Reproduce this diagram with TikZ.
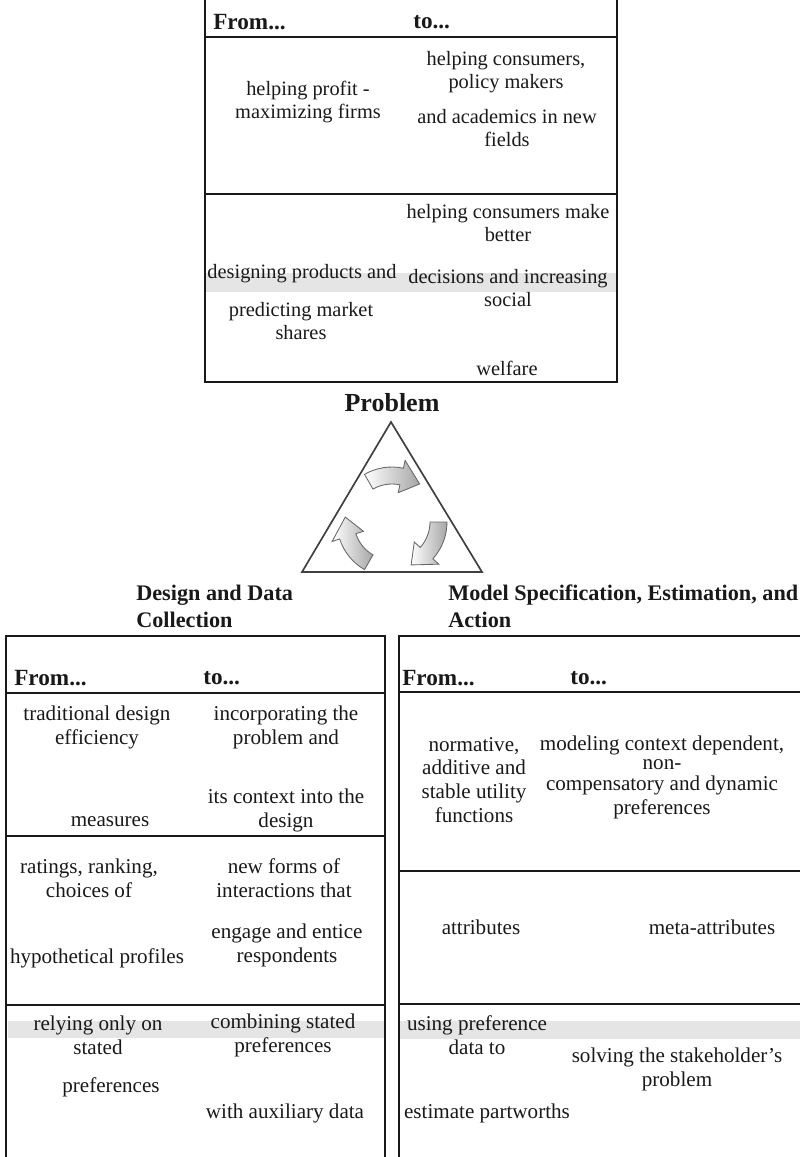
\documentclass[tikz,border=0pt]{standalone}
\usepackage{fontspec}
\setmainfont{Liberation Serif}
\usepackage{tikz}
\usetikzlibrary{calc}

\begin{document}
\begin{tikzpicture}[x=0.025cm, y=-0.025cm,
  rule/.style={line width=2pt, black!90},
  band/.style={fill=black!10},
  cell/.style={align=center, inner sep=0pt, text=black!90, font=\fontsize{15}{17}\selectfont},
  topcell/.style={cell, font=\fontsize{14.5}{16.3}\selectfont},
  head/.style={anchor=west, inner sep=0pt, text=black!90, font=\fontsize{16.5}{19}\selectfont\bfseries},
  title/.style={anchor=west, align=left, inner sep=0pt, text=black!90, font=\fontsize{15.8}{19.2}\selectfont\bfseries},
  turn/.style={draw=black!60, line width=0.6pt, left color=white, right color=black!35}]
  \useasboundingbox (0,0) rectangle (800,1157);

  % grey bands
  \fill[band] (205,273) rectangle (617,292);
  \fill[band] (8,1021) rectangle (384,1038);
  \fill[band] (400,1021) rectangle (800,1039);

  % Problem box
  \coordinate (A_TL) at (205,0);
  \coordinate (A_TR) at (617,0);
  \coordinate (A_BL) at (205,382);
  \coordinate (A_BR) at (617,382);
  \draw[rule] (A_TL) -- (A_BL) -- (A_BR) -- (A_TR);
  \foreach \y in {37,194}
    \draw[rule] (205,\y) -- (617,\y);

  % Design and Data Collection box
  \coordinate (B_TL) at (6,636);
  \coordinate (B_TR) at (385,636);
  \coordinate (B_BL) at (6,1157);
  \coordinate (B_BR) at (385,1157);
  \draw[rule] (B_BL) -- (B_TL) -- (B_TR) -- (B_BR);
  \foreach \y in {693,836,1005}
    \draw[rule] (6,\y) -- (385,\y);

  % Model Specification box
  \coordinate (C_TL) at (399,636);
  \coordinate (C_TR) at (800,636);
  \coordinate (C_BL) at (399,1157);
  \draw[rule] (C_BL) -- (C_TL) -- (C_TR);
  \foreach \y in {692,871,1004}
    \draw[rule] (399,\y) -- (800,\y);

  % triangle with turning arrows
  \begin{scope}[shift={(392,522)}, x=0.025cm, y=0.025cm]
    \coordinate (T_top) at (-1,100);
    \coordinate (T_left) at (-90,-50);
    \coordinate (T_right) at (90,-50);
    \draw[black!75, line width=1.2pt] (T_top) -- (T_left) -- (T_right) -- cycle;
    \foreach \a in {90,-30,210}
      \shade[turn] ({\a+30}:55) arc[start angle=\a+30, end angle=\a-12, radius=55]
        -- ({\a-12}:63) -- ({\a-36}:47) -- ({\a-12}:30) -- ({\a-12}:38)
        arc[start angle=\a-12, end angle=\a+30, radius=38] -- cycle;
  \end{scope}

  \node[inner sep=0pt, text=black!90, font=\fontsize{18.5}{20}\selectfont\bfseries] (problem) at (392,403) {Problem};
  \node[title] (designTitle) at (136,606) {Design and Data\\Collection};
  \node[title] (modelTitle) at (448,606) {Model Specification, Estimation, and\\Action};

  % Problem texts
  \node[head] (fromA) at (213,22) {From...};
  \node[head] (toA) at (413,22) {to...};
  \node[topcell] (p_firms) at (308,102) {helping profit -\\maximizing firms};
  \node[topcell] (q_consumers) at (506,72) {helping consumers,\\policy makers};
  \node[topcell] (q_academics) at (507,128) {and academics in new\\fields};
  \node[topcell] (p_design) at (302,274) {designing products and};
  \node[topcell] (p_predict) at (301,321) {predicting market\\shares};
  \node[topcell] (q_better) at (508,223) {helping consumers make\\better};
  \node[topcell] (q_social) at (508,288) {decisions and increasing\\social};
  \node[topcell] (q_welfare) at (507,368) {welfare};

  % Design and Data Collection texts
  \node[head] (fromB) at (14,678) {From...};
  \node[head] (toB) at (203,678) {to...};
  \node[cell] (p_efficiency) at (97,727) {traditional design\\efficiency};
  \node[cell] (p_measures) at (110,822) {measures};
  \node[cell] (q_problem) at (286,727) {incorporating the\\problem and};
  \node[cell] (q_context) at (286,810) {its context into the\\design};
  \node[cell] (p_ratings) at (89,878) {ratings, ranking,\\choices of};
  \node[cell] (p_profiles) at (97,958) {hypothetical profiles};
  \node[cell] (q_forms) at (284,878) {new forms of\\interactions that};
  \node[cell] (q_engage) at (287,945) {engage and entice\\respondents};
  \node[cell] (p_stated) at (98,1035) {relying only on\\stated};
  \node[cell] (p_prefs) at (111,1087) {preferences};
  \node[cell] (q_combine) at (283,1035) {combining stated\\preferences};
  \node[cell] (q_auxiliary) at (285,1113) {with auxiliary data};

  % Model Specification texts
  \node[head] (fromC) at (402,678) {From...};
  \node[head] (toC) at (570,678) {to...};
  \node[cell] (p_utility) at (474,780) {normative,\\additive and\\stable utility\\functions};
  \node[cell] (q_context2) at (662,745) {modeling context dependent,};
  \node[cell] (q_non) at (662,765) {non-};
  \node[cell] (q_dynamic) at (662,797) {compensatory and dynamic\\preferences};
  \node[cell] (p_attr) at (481,927) {attributes};
  \node[cell] (q_meta) at (712,927) {meta-attributes};
  \node[cell] (p_using) at (477,1035) {using preference\\data to};
  \node[cell] (p_partworths) at (487,1113) {estimate partworths};
  \node[cell] (q_solving) at (677,1069) {solving the stakeholder’s\\problem};
\end{tikzpicture}
\end{document}
